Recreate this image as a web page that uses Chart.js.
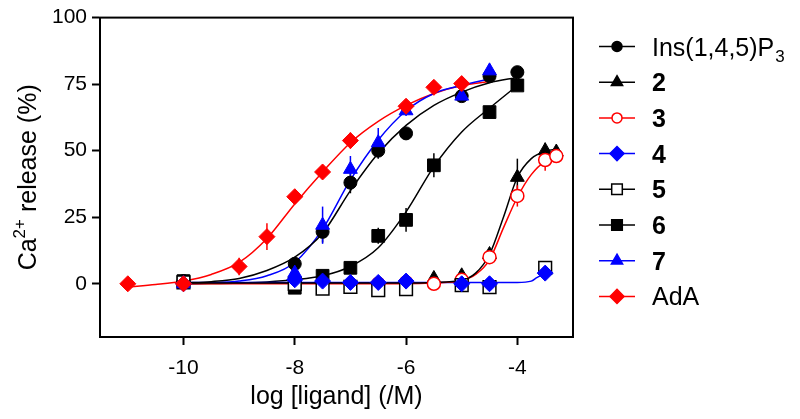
<!DOCTYPE html>
<html>
<head>
<meta charset="utf-8">
<script src="https://cdn.jsdelivr.net/npm/chart.js@4.4.1/dist/chart.umd.min.js"></script>
<style>
  html, body { margin: 0; padding: 0; background: #fff; }
  #wrap { width: 800px; height: 419px; }
</style>
</head>
<body>
<div id="wrap"><canvas id="myChart" width="800" height="419"></canvas></div>
<script>
// tick labels
const xTicks = [-10, -8, -6, -4];
const yTicks = [0, 25, 50, 75, 100];

// measured points (log M, % release) and error bars
const xIP3 = [-10, -8, -7.5, -7, -6.5, -6, -5, -4.5, -4];
const yIP3 = [1, 7.5, 19.5, 38, 50, 56.5, 70.5, 78, 79.5];
const eIP3 = [0, 0, 4, 4, 3, 0, 0, 0, 0];

const x2 = [-5.5, -5, -4.5, -4, -3.5, -3.3];
const y2 = [2, 3, 11, 40, 50, 49.5];
const e2 = [0, 0, 2, 7, 3, 0];

const x3 = [-6.5, -6, -5.5, -5, -4.5, -4, -3.5, -3.3];
const y3 = [0, 0.5, 0, 1.5, 10, 33, 46.5, 48];
const e3 = [0, 0, 0, 0, 1.5, 4, 4, 1.5];

const x4 = [-10, -8, -7.5, -7, -6.5, -6, -5, -4.5, -3.5];
const y4 = [0, 1.5, 1, 0.5, 0.5, 1, 0, 0, 4];
const e4 = [0, 0, 0, 0, 0, 0, 0, 0, 0];

const x5 = [-10, -8, -7.5, -7, -6.5, -6, -5, -4.5, -3.5];
const y5 = [0.5, 0, -1.8, -1.2, -2.4, -2, -0.5, -1.3, 6];
const e5 = [0, 0, 0, 0, 0, 0, 0, 0, 1.5];

const x6 = [-10, -8, -7.5, -7, -6.5, -6, -5.5, -4.5, -4];
const y6 = [1, -1.5, 3, 6, 18, 24, 44.5, 64.5, 74.5];
const e6 = [0, 0, 0, 0, 3, 4.5, 4.5, 0, 0];

const x7 = [-10, -8, -7.5, -7, -6.5, -6, -5, -4.5];
const y7 = [0, 4, 22, 43, 53, 65, 70.5, 80];
const e7 = [0, 0, 7, 5, 5.5, 2, 0, 0];

const xAdA = [-11, -10, -9, -8.5, -8, -7.5, -7, -6, -5.5, -5];
const yAdA = [0, 0, 6.5, 17.7, 32.7, 42, 53.8, 66.7, 73.8, 75.2];
const eAdA = [0, 0, 3.3, 5, 0, 2, 3, 1.5, 0, 2];

// fitted curves
const cxIP3 = [-10, -9.5, -9, -8.5, -8, -7.5, -7, -6.5, -6, -5.5, -5, -4.5, -4];
const cyIP3 = [0.3, 0.8, 2, 5, 10, 19, 35, 49, 59.5, 67, 72, 75.5, 77.5];
const cx2 = [-10, -6, -5.5, -5, -4.75, -4.5, -4.25, -4, -3.75, -3.5, -3.3];
const cy2 = [0.3, 0.3, 0.5, 1.3, 4, 11, 25, 40, 47, 49.8, 50.5];
const cx3 = [-10, -6, -5.5, -5, -4.75, -4.5, -4.25, -4, -3.75, -3.5, -3.3];
const cy3 = [0, 0, 0.3, 1.2, 3.5, 9, 21, 32.5, 41, 46, 47.5];
const cx4 = [-10, -4, -3.75, -3.65, -3.5];
const cy4 = [0.5, 0.5, 1, 2.3, 3.8];
const cx6 = [-10, -9.5, -9, -8.5, -8, -7.5, -7, -6.5, -6, -5.5, -5, -4.5, -4];
const cy6 = [0, 0.1, 0.3, 0.7, 1.5, 3, 6.5, 13.5, 27, 44, 57, 66, 74.5];
const cx7 = [-10, -9.5, -9, -8.5, -8, -7.5, -7, -6.5, -6, -5.5, -5, -4.5];
const cy7 = [0, 0.3, 1, 3, 8, 20.5, 39, 54, 65, 71.5, 74.5, 77];
const cxAdA = [-11, -10.5, -10, -9.5, -9, -8.5, -8, -7.5, -7, -6.5, -6, -5.5, -5, -4.5];
const cyAdA = [-1.2, -0.3, 1, 3.5, 8, 17, 30, 42, 53, 61, 67, 71.5, 74.5, 76];

const FONT = "'Liberation Sans', Arial, sans-serif";
const BLACK = '#000000', RED = '#ff0000', BLUE = '#0000ff';

const series = [
  { label: 'Ins(1,4,5)P', sub: '3', bold: false, x: xIP3, y: yIP3, err: eIP3, cx: cxIP3, cy: cyIP3, color: BLACK, style: 'circle', filled: true, r: 6.5, order: 9 },
  { label: '2', bold: true, x: x2, y: y2, err: e2, cx: cx2, cy: cy2, color: BLACK, style: 'triangle', filled: true, r: 8, order: 8 },
  { label: '3', bold: true, x: x3, y: y3, err: e3, cx: cx3, cy: cy3, color: RED, style: 'circle', filled: false, r: 6.5, order: 7 },
  { label: '4', bold: true, x: x4, y: y4, err: e4, cx: cx4, cy: cy4, color: BLUE, style: 'rectRot', filled: true, r: 8, order: 3 },
  { label: '5', bold: true, x: x5, y: y5, err: e5, cx: null, cy: null, color: BLACK, style: 'rect', filled: false, r: 9, order: 5 },
  { label: '6', bold: true, x: x6, y: y6, err: e6, cx: cx6, cy: cy6, color: BLACK, style: 'rect', filled: true, r: 9, order: 6 },
  { label: '7', bold: true, x: x7, y: y7, err: e7, cx: cx7, cy: cy7, color: BLUE, style: 'triangle', filled: true, r: 8, order: 4 },
  { label: 'AdA', bold: false, x: xAdA, y: yAdA, err: eAdA, cx: cxAdA, cy: cyAdA, color: RED, style: 'rectRot', filled: true, r: 8, order: 2 }
];

const datasets = [];
series.forEach(function (s) {
  if (s.cx) {
    datasets.push({
      data: s.cx.map(function (v, i) { return { x: v, y: s.cy[i] }; }),
      showLine: true,
      borderColor: s.color,
      borderWidth: 1.5,
      pointRadius: 0,
      cubicInterpolationMode: 'monotone',
      order: 100
    });
  }
  datasets.push({
    data: s.x.map(function (v, i) { return { x: v, y: s.y[i] }; }),
    showLine: false,
    pointStyle: s.style,
    pointRadius: s.r,
    backgroundColor: s.filled ? s.color : '#ffffff',
    borderColor: s.color,
    borderWidth: s.filled ? 1 : 1.5,
    order: s.order
  });
});

const errorBars = {
  id: 'errorBars',
  beforeDatasetsDraw(chart) {
    const ctx = chart.ctx, xs = chart.scales.x, ys = chart.scales.y;
    ctx.save();
    ctx.lineWidth = 1.5;
    series.forEach(function (s) {
      ctx.strokeStyle = s.color;
      s.err.forEach(function (e, i) {
        if (!e) return;
        const px = xs.getPixelForValue(s.x[i]);
        ctx.beginPath();
        ctx.moveTo(px, ys.getPixelForValue(s.y[i] - e));
        ctx.lineTo(px, ys.getPixelForValue(s.y[i] + e));
        ctx.stroke();
      });
    });
    ctx.restore();
  }
};

function marker(ctx, style, x, y, r, color, filled) {
  ctx.beginPath();
  if (style === 'circle') {
    ctx.arc(x, y, r, 0, Math.PI * 2);
  } else if (style === 'triangle') {
    ctx.moveTo(x, y - r);
    ctx.lineTo(x + r * 0.866, y + r * 0.5);
    ctx.lineTo(x - r * 0.866, y + r * 0.5);
    ctx.closePath();
  } else if (style === 'rectRot') {
    ctx.moveTo(x, y - r); ctx.lineTo(x + r, y); ctx.lineTo(x, y + r); ctx.lineTo(x - r, y);
    ctx.closePath();
  } else {
    const h = r * 0.7071;
    ctx.rect(x - h, y - h, 2 * h, 2 * h);
  }
  ctx.fillStyle = filled ? color : '#ffffff';
  ctx.fill();
  ctx.lineWidth = 1.5;
  ctx.strokeStyle = color;
  ctx.stroke();
}

const decorations = {
  id: 'decorations',
  afterDraw(chart) {
    const ctx = chart.ctx, a = chart.chartArea;
    ctx.save();
    // box frame
    ctx.strokeStyle = BLACK;
    ctx.lineWidth = 2;
    ctx.strokeRect(a.left, a.top, a.right - a.left, a.bottom - a.top);

    // x title
    ctx.fillStyle = BLACK;
    ctx.font = '25px ' + FONT;
    ctx.textAlign = 'center';
    ctx.textBaseline = 'alphabetic';
    ctx.fillText('log [ligand] (/M)', (a.left + a.right) / 2, 404);

    // y title with superscript
    ctx.save();
    ctx.translate(36, (a.top + a.bottom) / 2);
    ctx.rotate(-Math.PI / 2);
    ctx.textAlign = 'left';
    const big = '25px ' + FONT, small = '17px ' + FONT;
    ctx.font = big; const w1 = ctx.measureText('Ca').width;
    ctx.font = small; const w2 = ctx.measureText('2+').width;
    ctx.font = big; const w3 = ctx.measureText(' release (%)').width;
    let px = -(w1 + w2 + w3) / 2;
    ctx.font = big; ctx.fillText('Ca', px, 0); px += w1;
    ctx.font = small; ctx.fillText('2+', px, -11); px += w2;
    ctx.font = big; ctx.fillText(' release (%)', px, 0);
    ctx.restore();

    // legend
    const legendSize = { circle: 5, triangle: 6.5, rectRot: 7, rect: 7.5 };
    series.forEach(function (s, i) {
      const y = 46.5 + i * 35.7;
      ctx.strokeStyle = s.color;
      ctx.lineWidth = 1.5;
      ctx.beginPath();
      ctx.moveTo(599, y); ctx.lineTo(635, y);
      ctx.stroke();
      marker(ctx, s.style, 617, y, legendSize[s.style], s.color, s.filled);
      ctx.fillStyle = BLACK;
      ctx.textAlign = 'left';
      ctx.font = (s.bold ? 'bold ' : '') + '25px ' + FONT;
      ctx.fillText(s.label, 652, y + 9);
      if (s.sub) {
        const w = ctx.measureText(s.label).width;
        ctx.font = '17px ' + FONT;
        ctx.fillText(s.sub, 652 + w + 1, y + 15);
      }
    });
    ctx.restore();
  }
};

new Chart(document.getElementById('myChart').getContext('2d'), {
  type: 'scatter',
  data: { datasets: datasets },
  options: {
    responsive: false,
    animation: false,
    events: [],
    layout: { padding: { left: 0, right: 227, top: 17, bottom: 0 } },
    plugins: { legend: { display: false }, tooltip: { enabled: false } },
    scales: {
      x: {
        type: 'linear',
        min: -11.5,
        max: -3,
        afterBuildTicks: function (axis) { axis.ticks = xTicks.map(function (v) { return { value: v }; }); },
        afterFit: function (scale) { scale.height = 82; },
        grid: { drawOnChartArea: false, drawTicks: true, tickLength: 8, tickWidth: 2, color: BLACK },
        border: { display: true, color: BLACK, width: 2 },
        ticks: { color: BLACK, padding: 11, font: { family: FONT, size: 21 }, maxRotation: 0 }
      },
      y: {
        type: 'linear',
        min: -20,
        max: 100,
        afterBuildTicks: function (axis) { axis.ticks = yTicks.map(function (v) { return { value: v }; }); },
        afterFit: function (scale) { scale.width = 100; },
        grid: { drawOnChartArea: false, drawTicks: true, tickLength: 8, tickWidth: 2, color: BLACK },
        border: { display: true, color: BLACK, width: 2 },
        ticks: { color: BLACK, padding: 5, font: { family: FONT, size: 21 } }
      }
    }
  },
  plugins: [errorBars, decorations]
});
</script>
</body>
</html>
